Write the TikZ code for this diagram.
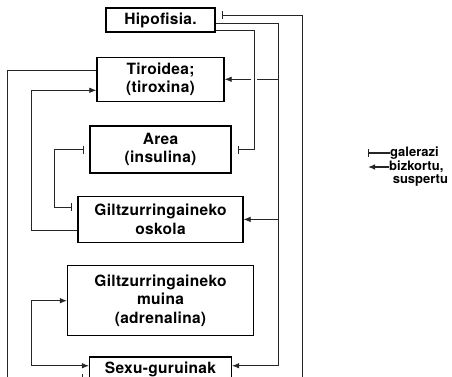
\documentclass[tikz,border=0pt]{standalone}
\usepackage{fontspec}
\setmainfont{TeX Gyre Heros}
\usetikzlibrary{arrows.meta,positioning}

\tikzset{
  gland/.style={draw, line width=1.3pt, align=center, inner sep=0pt,
    font=\fontsize{15.5}{18.5}\selectfont\bfseries\addfontfeatures{LetterSpace=2}},
  wire/.style={line width=0.7pt, black!85},
  act/.style={wire, -{Latex[length=7pt,width=5.5pt]}},
  inh/.style={wire, -{Bar[width=8pt]}, shorten >=6pt},
  legtext/.style={inner sep=0pt, align=left,
    font=\fontsize{13}{13}\selectfont\bfseries}
}

\begin{document}
\begin{tikzpicture}[x=1pt, y=1pt, node distance=22pt]
    \useasboundingbox (0,0) rectangle (452,376);
    % guruinak
    \node[gland, minimum width=109pt, minimum height=24pt] (hipo) at (160.5,356) {Hipofisia.};
    \node[gland, minimum width=127pt, minimum height=44pt] (tiro) [below=24pt of hipo] {Tiroidea;\\(tiroxina)};
    \node[gland, minimum width=141pt, minimum height=47pt] (area) [below=23.5pt of tiro] {Area\\(insulina)};
    \node[gland, minimum width=165pt, minimum height=46pt] (oskola) [below=of area] {Giltzurringaineko\\oskola};
    \node[gland, minimum width=186pt, minimum height=70pt] (muina) [below=of oskola] {Giltzurringaineko\\muina\\(adrenalina)};
    \node[gland, minimum width=142pt, minimum height=25.5pt] (sexu) [below=20pt of muina] {Sexu-guruinak};

    % lotuneak
    \coordinate (h1) at ([yshift=5pt]hipo.east);
    \coordinate (h2) at ([yshift=-3pt]hipo.east);
    \coordinate (h3) at ([yshift=-10pt]hipo.east);
    \coordinate (t1) at ([yshift=9pt]tiro.west);
    \coordinate (t2) at ([yshift=-11pt]tiro.west);
    \coordinate (o1) at ([yshift=-11pt]oskola.west);
    \coordinate (o2) at ([yshift=12pt]oskola.west);
    \coordinate (s1) at ([yshift=4pt]sexu.east);
    \coordinate (s2) at ([yshift=-9pt]sexu.east);
    \coordinate (s3) at ([yshift=4pt]sexu.west);
    \coordinate (s4) at ([yshift=-8pt]sexu.west);
    % lerro bertikalak
    \coordinate (ra) at (254,0);
    \coordinate (rb) at (278,0);
    \coordinate (rc) at (302,0);
    \coordinate (la) at (7,0);
    \coordinate (lb) at (31,0);
    \coordinate (lc) at (54,0);

    % eskuineko aldea
    \draw[inh] (s2) -| (rc |- h1) -- (h1);
    \draw[act] (h2) -| (rb |- s1) -- (s1);
    \draw[wire] (rb |- tiro.east) -- ([xshift=3pt]ra |- tiro.east);
    \draw[act] ([xshift=-3pt]ra |- tiro.east) -- (tiro.east);
    \draw[act] (rb |- oskola.east) -- (oskola.east);
    \draw[inh] (h3) -| (ra |- area.east) -- (area.east);

    % ezkerreko aldea
    \draw[inh] (t1) -| (la |- s4) -- (s4);
    \draw[act] (o1) -| (lb |- t2) -- (t2);
    \draw[wire, {Bar[width=8pt]}-{Bar[width=8pt]}, shorten <=6pt, shorten >=6pt]
      (area.west) -| (lc |- o2) -- (o2);
    \draw[wire, {Latex[length=7pt,width=5.5pt]}-{Latex[length=7pt,width=5.5pt]}]
      (muina.west) -| (lb |- s3) -- (s3);

    % legenda
    \node[legtext, anchor=west] (galerazi) at (390,223) {galerazi};
    \node[legtext, anchor=north west] (bizkortu) at (389,215.5) {bizkortu,\\\ suspertu};
    \coordinate (lg1) at (368,223);
    \coordinate (lg2) at (368,209);
    \draw[wire, line width=1.2pt, {Bar[width=8pt]}-] (lg1) -- (galerazi.west);
    \draw[wire, line width=1.2pt, {Latex[length=7pt,width=5.5pt]}-] (lg2) -- (lg2 -| bizkortu.west);
\end{tikzpicture}
\end{document}
